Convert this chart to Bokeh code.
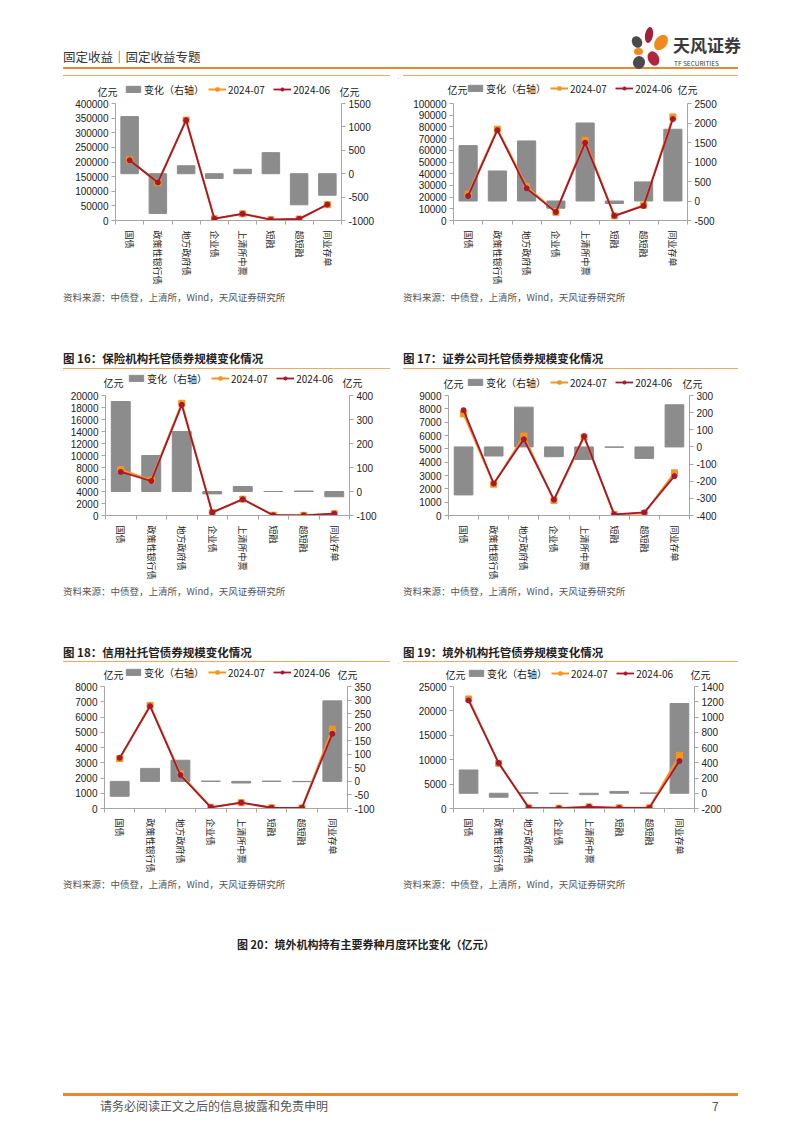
import math
from bokeh.plotting import figure
from bokeh.models import (ColumnDataSource, Range1d, LinearAxis, FixedTicker,
                          Legend, LegendItem, Label, Div, Spacer, NumeralTickFormatter)
from bokeh.layouts import column, row
from bokeh.embed import file_html
from bokeh.resources import INLINE

# ---------------- data ----------------
categories = ["国债", "政策性银行债", "地方政府债", "企业债", "上清所中票", "短融", "超短融", "同业存单"]
series_names = ["变化（右轴）", "2024-07", "2024-06"]
unit_label = "亿元"

# chart A (top left)
a_jul = [207200, 129150, 343170, 6000, 23000, 3050, 5035, 54040]
a_jun = [206000, 130000, 343000, 6100, 22900, 2600, 5700, 54500]
a_chg = [1220, -850, 170, -100, 95, 450, -665, -460]
a_left_ticks = [0, 50000, 100000, 150000, 200000, 250000, 300000, 350000, 400000]
a_right_ticks = [-1000, -500, 0, 500, 1000, 1500]

# chart B (top right)
b_jul = [22500, 78000, 29000, 7000, 68500, 3900, 13000, 88500]
b_jun = [21000, 77200, 27500, 7200, 66500, 4000, 12500, 86700]
b_chg = [1420, 770, 1540, -185, 2000, -65, 490, 1840]
b_left_ticks = [0, 10000, 20000, 30000, 40000, 50000, 60000, 70000, 80000, 90000, 100000]
b_right_ticks = [-500, 0, 500, 1000, 1500, 2000, 2500]

# 图16 保险机构
c_jul = [7650, 5900, 18700, 500, 2720, 50, 30, 290]
c_jun = [7270, 5750, 18450, 510, 2700, 50, 28, 312]
c_chg = [375, 150, 250, -10, 21, 0, 2, -22]
c_left_ticks = [0, 2000, 4000, 6000, 8000, 10000, 12000, 14000, 16000, 18000, 20000]
c_right_ticks = [-100, 0, 100, 200, 300, 400]

# 图17 证券公司
d_jul = [7620, 2350, 5950, 1130, 5880, 80, 160, 3200]
d_jun = [7900, 2400, 5720, 1190, 5950, 82, 230, 2950]
d_chg = [-280, -53, 232, -57, -73, -2, -67, 246]
d_left_ticks = [0, 1000, 2000, 3000, 4000, 5000, 6000, 7000, 8000, 9000]
d_right_ticks = [-400, -300, -200, -100, 0, 100, 200, 300]

# 图18 信用社
e_jul = [3270, 6760, 2270, 80, 380, 50, 40, 5200]
e_jun = [3320, 6710, 2190, 80, 386, 49, 41, 4900]
e_chg = [-55, 48, 78, 1, -6, 1, -1, 297]
e_left_ticks = [0, 1000, 2000, 3000, 4000, 5000, 6000, 7000, 8000]
e_right_ticks = [-100, -50, 0, 50, 100, 150, 200, 250, 300, 350]

# 图19 境外机构
f_jul = [22450, 9250, 150, 50, 330, 130, 130, 10900]
f_jun = [22150, 9300, 145, 52, 350, 106, 127, 9730]
f_chg = [305, -52, 5, -2, -18, 24, 3, 1177]
f_left_ticks = [0, 5000, 10000, 15000, 20000, 25000]
f_right_ticks = [-200, 0, 200, 400, 600, 800, 1000, 1200, 1400]

# ---------------- style ----------------
GRAY = "#8C8C8C"
ORANGE = "#F7941D"
RED = "#A8172F"
AXIS = "#A6A6A6"
CJK = "Noto Sans CJK SC"
NUM = "Liberation Sans"
TXT = "#222222"
NBSP = "\u00a0"
LEG_H = 14
HALF_TXT = 8.5   # keep text centres this far inside a strip
TOP_PAD = 4      # chart border above the frame (room for the top tick label)


def style_axis(ax):
    ax.axis_line_color = AXIS
    ax.major_tick_line_color = AXIS
    ax.major_tick_out = 4
    ax.major_tick_in = 0
    ax.minor_tick_line_color = None
    ax.major_label_text_font = NUM
    ax.major_label_text_font_size = "10px"
    ax.major_label_text_color = TXT
    ax.major_label_standoff = 3
    ax.formatter = NumeralTickFormatter(format="0")


def inside(v, S):
    return min(max(v, HALF_TXT), S - HALF_TXT)


def make_strip(W, S, jul, jun, chg, lg):
    """Legend strip above a chart: its frame is the whole strip, coordinates in pixels."""
    leg_x, leg_cy, ul_x, ur_x, u_cy = lg
    s = figure(width=W, height=S, x_range=Range1d(0, W), y_range=Range1d(0, S),
               x_axis_type=None, y_axis_type=None, output_backend="svg",
               toolbar_location=None, min_border=0, outline_line_color=None,
               background_fill_color="white", border_fill_color="white")
    s.grid.visible = False
    # legend proxies: first point of each series, far outside this strip's ranges
    bars = s.vbar(x=[-1], top=[chg[0]], bottom=[chg[0]], width=1,
                  fill_color=GRAY, line_color=GRAY)
    l7 = s.line(x=[-1], y=[jul[0]], line_color=ORANGE, line_width=2)
    s7 = s.scatter(x=[-1], y=[jul[0]], marker="square", size=6,
                   fill_color=ORANGE, line_color=ORANGE)
    l6 = s.line(x=[-1], y=[jun[0]], line_color=RED, line_width=1.8)
    s6 = s.scatter(x=[-1], y=[jun[0]], marker="circle", size=5,
                   fill_color=RED, line_color=RED)
    legend = Legend(items=[LegendItem(label=series_names[0], renderers=[bars]),
                           LegendItem(label=series_names[1] + NBSP * 2, renderers=[l7, s7]),
                           LegendItem(label=series_names[2], renderers=[l6, s6])],
                    orientation="horizontal",
                    location=(leg_x, inside(leg_cy, S) - LEG_H / 2),
                    border_line_color=None, background_fill_alpha=0,
                    padding=0, margin=0, spacing=4, label_standoff=2,
                    glyph_width=18, glyph_height=8, label_height=10, label_width=1,
                    label_text_font=CJK, label_text_font_size="10px",
                    label_text_color=TXT)
    s.add_layout(legend)
    for ux in (ul_x, ur_x):
        s.add_layout(Label(x=ux, y=inside(u_cy, S), text=unit_label, text_font=CJK,
                           text_font_size="10px", text_color=TXT,
                           text_align="left", text_baseline="middle"))
    return s


def make_chart(jul, jun, chg, lticks, rticks, W, H, bl, fw, fh):
    n = len(categories)
    idx = list(range(n))
    src = ColumnDataSource(dict(x=idx, jul=jul, jun=jun, chg=chg))
    p = figure(width=W, height=H, x_range=Range1d(-0.5, n - 0.5),
               y_range=Range1d(lticks[0], lticks[-1]),
               output_backend="svg", toolbar_location=None,
               min_border_left=bl, min_border_right=W - bl - fw,
               min_border_top=TOP_PAD, min_border_bottom=H - TOP_PAD - fh,
               outline_line_color=None, background_fill_color="white",
               border_fill_color="white")
    p.extra_y_ranges = {"right": Range1d(rticks[0], rticks[-1])}
    p.xgrid.visible = False
    p.ygrid.visible = False

    ya = p.yaxis[0]
    ya.ticker = FixedTicker(ticks=lticks)
    style_axis(ya)

    ra = LinearAxis(y_range_name="right", ticker=FixedTicker(ticks=rticks))
    style_axis(ra)
    p.add_layout(ra, "right")

    xa = p.xaxis[0]
    xa.ticker = FixedTicker(ticks=idx, minor_ticks=[i - 0.5 for i in range(n + 1)])
    xa.major_label_overrides = {i: c for i, c in enumerate(categories)}
    xa.major_label_orientation = -math.pi / 2
    xa.axis_line_color = AXIS
    xa.major_tick_line_color = None
    xa.major_tick_out = 0
    xa.major_tick_in = 0
    xa.minor_tick_line_color = AXIS
    xa.minor_tick_out = 4
    xa.minor_tick_in = 0
    xa.major_label_text_font = CJK
    xa.major_label_text_font_size = "9px"
    xa.major_label_text_color = TXT
    xa.major_label_standoff = 6

    p.vbar(x="x", top="chg", bottom=0, width=0.62, source=src,
           fill_color=GRAY, line_color=GRAY, y_range_name="right")
    p.line("x", "jul", source=src, line_color=ORANGE, line_width=2)
    p.scatter("x", "jul", source=src, marker="square", size=6,
              fill_color=ORANGE, line_color=ORANGE)
    p.line("x", "jun", source=src, line_color=RED, line_width=1.8)
    p.scatter("x", "jun", source=src, marker="circle", size=5,
              fill_color=RED, line_color=RED)
    return p


# charts (frames in a row share top/bottom)
pA = make_chart(a_jul, a_jun, a_chg, a_left_ticks, a_right_ticks, 335, 188, 52, 226, 119)
pB = make_chart(b_jul, b_jun, b_chg, b_left_ticks, b_right_ticks, 347, 188, 55, 234, 119)
pC = make_chart(c_jul, c_jun, c_chg, c_left_ticks, c_right_ticks, 335, 191, 42, 244, 120)
pD = make_chart(d_jul, d_jun, d_chg, d_left_ticks, d_right_ticks, 347, 191, 50, 241, 120)
pE = make_chart(e_jul, e_jun, e_chg, e_left_ticks, e_right_ticks, 335, 195, 41, 243, 122)
pF = make_chart(f_jul, f_jun, f_chg, f_left_ticks, f_right_ticks, 347, 195, 55, 241, 122)

# legend strips: (legend x, legend centre y, left unit x, right unit x, unit centre y) in strip px
sA = make_strip(335, 21, a_jul, a_jun, a_chg, (61, 9.5, 34, 276, 5))
sB = make_strip(347, 21, b_jul, b_jun, b_chg, (68, 10.5, 49, 279, 10))
sC = make_strip(335, 21, c_jul, c_jun, c_chg, (64, 13.5, 40, 279, 9))
sD = make_strip(347, 21, d_jul, d_jun, d_chg, (68, 8, 45, 284, 8))
sE = make_strip(335, 19, e_jul, e_jun, e_chg, (61, 9.5, 40, 274, 7))
sF = make_strip(347, 19, f_jul, f_jun, f_chg, (69, 8.5, 47, 292, 6))

# ---------------- page decorations ----------------
FONT = "'Noto Sans CJK SC', sans-serif"


def t(x, y, s, size, color="#333", weight="normal", lh=None):
    lh = lh or size + 4
    return (f'<div style="position:absolute;left:{x}px;top:{y}px;font-size:{size}px;'
            f'line-height:{lh}px;color:{color};font-weight:{weight};font-family:{FONT};'
            f'white-space:nowrap">{s}</div>')


def hl(x, y, w, h, color):
    return (f'<div style="position:absolute;left:{x}px;top:{y}px;width:{w}px;'
            f'height:{h}px;background:{color}"></div>')


def petal(cx, cy, w, h, rot, color):
    return (f'<div style="position:absolute;left:{cx - w / 2}px;top:{cy - h / 2}px;'
            f'width:{w}px;height:{h}px;border-radius:50%;background:{color};'
            f'transform:rotate({rot}deg)"></div>')


def band(w, h, parts):
    html = (f'<div style="position:relative;width:{w}px;height:{h}px;overflow:hidden">'
            + "".join(parts) + '</div>')
    return Div(text=html, width=w, height=h, margin=0)


SRC = "资料来源：中债登，上清所，Wind，天风证券研究所"
ORG = "#E8892B"
ORG2 = "#F2A863"
BW = 800

header = band(BW, 78, [
    t(63, 49, "固定收益｜固定收益专题", 12.5, "#333"),
    hl(63, 67, 675, 2, ORG),
    hl(63, 75, 327, 1, ORG2), hl(403, 75, 335, 1, ORG2),
    petal(649, 35, 8, 16, 10, "#A3203A"),
    petal(661, 42, 12, 17, 35, "#F08A1C"),
    petal(637, 42, 10, 12, -30, "#4A4A4A"),
    petal(638, 51.5, 9, 7, 0, "#F08A1C"),
    petal(653, 58, 11, 15, -25, "#B3243C"),
    petal(639, 62, 12, 13, 20, "#4A4A4A"),
    t(673, 35, "天风证券", 17, "#3A3A3A", "bold", 20),
    t(674, 59, "TF SECURITIES", 6.5, "#3A3A3A", "normal", 8),
])

mid1 = band(BW, 83, [
    t(63, 4, SRC, 9.5, "#555", "normal", 12),
    t(403, 4, SRC, 9.5, "#555", "normal", 12),
    t(63, 63, "图 16：保险机构托管债券规模变化情况", 11.5, "#222", "bold", 16),
    t(403, 63, "图 17：证券公司托管债券规模变化情况", 11.5, "#222", "bold", 16),
    hl(63, 81, 327, 1, ORG2), hl(403, 81, 335, 1, ORG2),
])

mid2 = band(BW, 81, [
    t(63, 3, SRC, 9.5, "#555", "normal", 12),
    t(403, 3, SRC, 9.5, "#555", "normal", 12),
    t(63, 62, "图 18：信用社托管债券规模变化情况", 11.5, "#222", "bold", 16),
    t(403, 62, "图 19：境外机构托管债券规模变化情况", 11.5, "#222", "bold", 16),
    hl(63, 79, 327, 1, ORG2), hl(403, 79, 335, 1, ORG2),
])

bottom = band(BW, 248, [
    t(63, 1, SRC, 9.5, "#555", "normal", 12),
    t(403, 1, SRC, 9.5, "#555", "normal", 12),
    t(237, 59, "图 20：境外机构持有主要券种月度环比变化（亿元）", 11, "#222", "bold", 16),
    hl(63, 216, 675, 3, ORG),
    t(100, 221, "请务必阅读正文之后的信息披露和免责申明", 12, "#555", "normal", 16),
    t(712, 221, "7", 12, "#555", "normal", 16),
])


def prow(h, a, b):
    return row(Spacer(width=63, height=h), a, b, spacing=0)


layout = column(
    header,
    prow(21, sA, sB), prow(188, pA, pB),
    mid1,
    prow(21, sC, sD), prow(191, pC, pD),
    mid2,
    prow(19, sE, sF), prow(195, pE, pF),
    bottom,
    spacing=0,
)

open("out.html", "w").write(file_html(layout, INLINE))
